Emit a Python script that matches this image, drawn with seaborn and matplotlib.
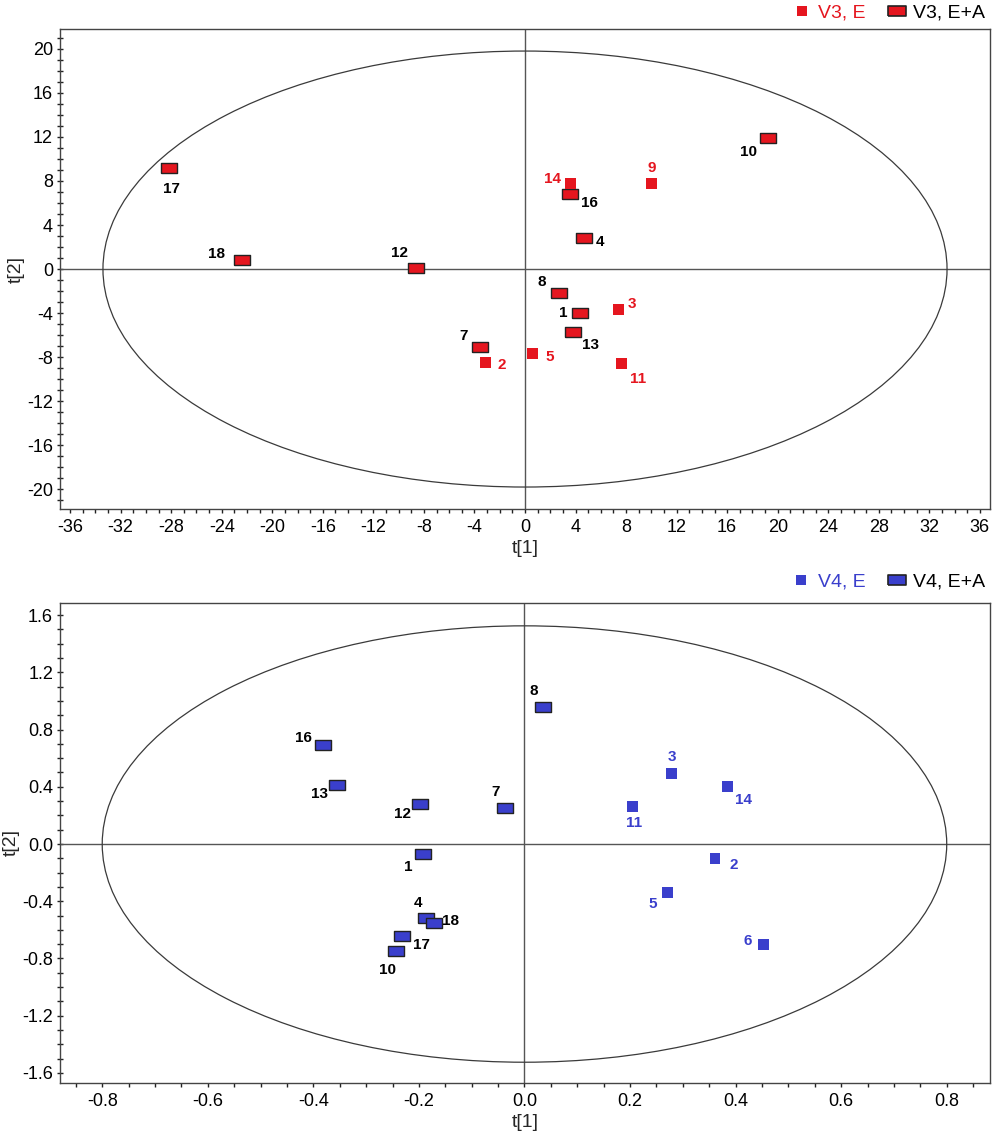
import numpy as np
import pandas as pd
import seaborn as sns
from matplotlib import pyplot as plt
from matplotlib.lines import Line2D
from matplotlib.patches import Ellipse
from matplotlib.ticker import MultipleLocator, FormatStrFormatter

# Top panel (V3)
v3_ids = [10, 9, 14, 16, 4, 12, 8, 1, 3, 13, 7, 2, 5, 11, 17, 18]
v3_t1 = [19.2, 10.0, 3.6, 3.6, 4.7, -8.6, 2.7, 4.35, 7.4, 3.8, -3.6, -3.1, 0.6, 7.6, -28.2, -22.4]
v3_t2 = [11.9, 7.8, 7.8, 6.8, 2.8, 0.1, -2.2, -4.0, -3.7, -5.7, -7.1, -8.5, -7.7, -8.6, 9.2, 0.85]
v3_group = ["E+A", "E", "E", "E+A", "E+A", "E+A", "E+A", "E+A", "E", "E+A", "E+A", "E", "E", "E", "E+A", "E+A"]
v3_ellipse = (33.4, 19.8)

# Bottom panel (V4)
v4_ids = [8, 16, 13, 12, 7, 1, 4, 18, 17, 10, 3, 14, 11, 2, 5, 6]
v4_t1 = [0.036, -0.381, -0.355, -0.197, -0.036, -0.192, -0.186, -0.171, -0.232, -0.243,
         0.279, 0.385, 0.205, 0.361, 0.271, 0.452]
v4_t2 = [0.96, 0.69, 0.41, 0.28, 0.25, -0.07, -0.52, -0.55, -0.64, -0.75,
         0.49, 0.40, 0.26, -0.10, -0.34, -0.70]
v4_group = ["E+A"] * 10 + ["E"] * 6
v4_ellipse = (0.80, 1.525)

# label offsets in pixels (dx right, dy down)
v3_offsets = {10: (-19, 14), 9: (0, -15), 14: (-18, -4), 16: (19, 9), 4: (16, 4), 12: (-17, -15),
              8: (-17, -11), 1: (-17, 0), 3: (13, -6), 13: (17, 13), 7: (-16, -11), 2: (16, 2),
              5: (17, 3), 11: (17, 15), 17: (3, 21), 18: (-25, -6)}
v4_offsets = {8: (-10, -16), 16: (-20, -7), 13: (-18, 9), 12: (-18, 10), 7: (-10, -16), 1: (-15, 13),
              4: (-8, -15), 18: (16, -2), 17: (19, 9), 10: (-9, 19), 3: (0, -17), 14: (16, 13),
              11: (1, 16), 2: (19, 7), 5: (-15, 11), 6: (-15, -3)}

RED = "#e5161f"
BLUE = "#3a3fcc"
RECT = [(-1.6, -1), (1.6, -1), (1.6, 1), (-1.6, 1), (-1.6, -1)]

sns.set_style("white")
plt.rcParams["font.family"] = ["Liberation Sans", "DejaVu Sans"]

fig = plt.figure(figsize=(10, 11.34), dpi=100)
ax_top = fig.add_axes([0.06, 0.5511, 0.93, 0.4233])
ax_bot = fig.add_axes([0.06, 0.045, 0.93, 0.4233])


def panel(ax, ids, t1, t2, group, offsets, ellipse, color, name, xlim, ylim, xstep, ystep, fmt, leg_y):
    df = pd.DataFrame({"id": ids, "t1": t1, "t2": t2, "group": group})
    ax.axhline(0, color="#555555", lw=1, zorder=1)
    ax.axvline(0, color="#555555", lw=1, zorder=1)
    ax.add_patch(Ellipse((0, 0), 2 * ellipse[0], 2 * ellipse[1], fill=False,
                         edgecolor="#3a3a3a", lw=0.9, zorder=1))

    e = df[df.group == "E"]
    ea = df[df.group == "E+A"]
    sns.scatterplot(data=ea, x="t1", y="t2", ax=ax, marker=RECT, s=135, color=color,
                    edgecolor="#222222", linewidth=1, zorder=3)
    sns.scatterplot(data=e, x="t1", y="t2", ax=ax, marker="s", s=62, color=color,
                    edgecolor="none", linewidth=0, zorder=3)

    for _, r in df.iterrows():
        dx, dy = offsets[r.id]
        ax.annotate(str(r.id), (r.t1, r.t2), xytext=(dx, -dy), textcoords="offset pixels",
                    ha="center", va="center", fontsize=11, fontweight="bold",
                    color=color if r.group == "E" else "black", zorder=4)

    ax.set_xlim(*xlim)
    ax.set_ylim(*ylim)
    ax.xaxis.set_major_locator(MultipleLocator(xstep))
    ax.xaxis.set_minor_locator(MultipleLocator(xstep / 4))
    ax.yaxis.set_major_locator(MultipleLocator(ystep))
    ax.yaxis.set_minor_locator(MultipleLocator(ystep / 4))
    ax.xaxis.set_major_formatter(FormatStrFormatter(fmt))
    ax.yaxis.set_major_formatter(FormatStrFormatter(fmt))
    ax.tick_params(axis="both", which="both", bottom=True, left=True, labelsize=13,
                   colors="#222222", labelcolor="black")
    ax.tick_params(axis="x", which="both", direction="out", length=3, width=1, pad=4)
    ax.tick_params(axis="y", which="both", direction="inout", length=4, width=1, pad=3)
    for s in ax.spines.values():
        s.set_color("#444444")
        s.set_linewidth(1)
    ax.set_xlabel("t[1]", fontsize=14, labelpad=3)
    ax.set_ylabel("t[2]", fontsize=14, labelpad=2)

    handles = [Line2D([], [], ls="none", marker="s", markersize=7.5, color=color, markeredgewidth=0),
               Line2D([], [], ls="none", marker=RECT, markersize=12.5, color=color,
                      markeredgecolor="#222222", markeredgewidth=1.2)]
    leg = ax.legend(handles, [name + ", E", name + ", E+A"], loc="center right",
                    bbox_to_anchor=(0.995, leg_y), ncol=2, frameon=False, fontsize=14,
                    handletextpad=0.25, handlelength=1.2, columnspacing=1.0,
                    borderaxespad=0, borderpad=0)
    leg.get_texts()[0].set_color(color)
    leg.get_texts()[1].set_color("black")


panel(ax_top, v3_ids, v3_t1, v3_t2, v3_group, v3_offsets, v3_ellipse, RED, "V3",
      (-36.8, 36.8), (-21.8, 21.8), 4, 4, "%g", 1.034)
panel(ax_bot, v4_ids, v4_t1, v4_t2, v4_group, v4_offsets, v4_ellipse, BLUE, "V4",
      (-0.88, 0.882), (-1.67, 1.685), 0.2, 0.4, "%.1f", 1.044)

fig.savefig("out.png", dpi=100)
